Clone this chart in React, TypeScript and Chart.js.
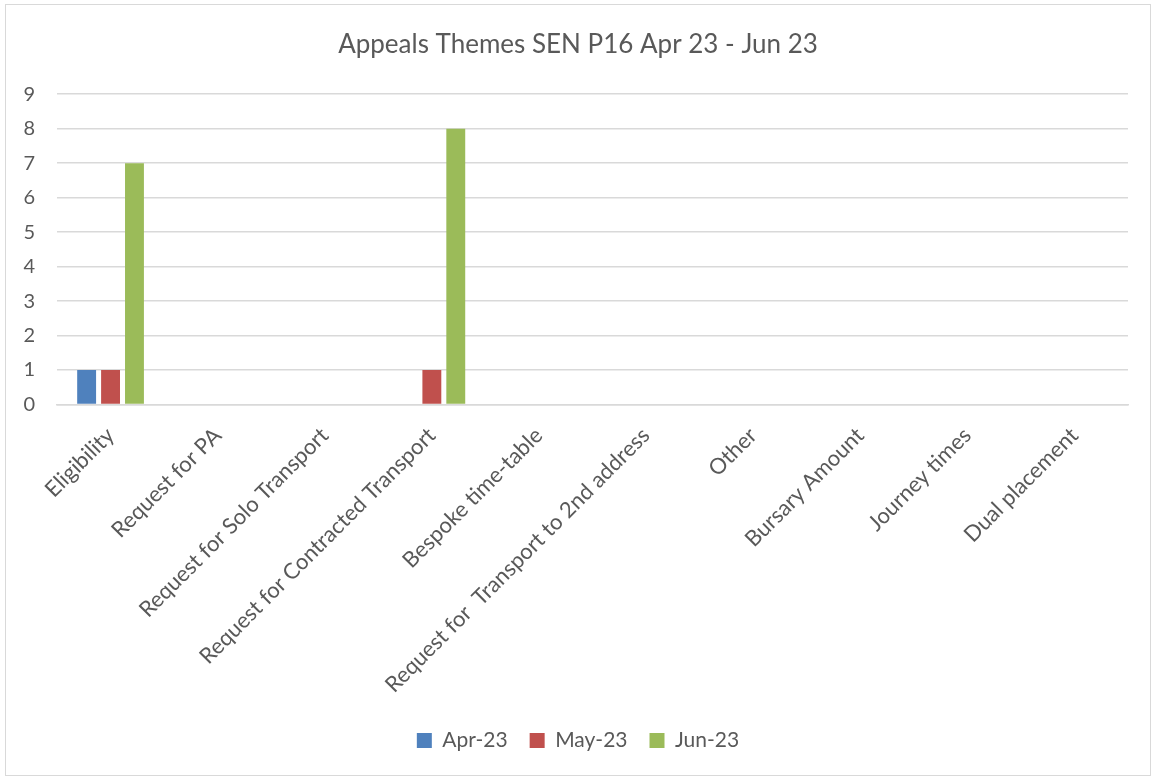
import React, { useEffect, useRef } from "react";
import { Chart, registerables } from "chart.js";

Chart.register(...registerables);

const title = "Appeals Themes SEN P16 Apr 23 - Jun 23";
const categories = [
  "Eligibility",
  "Request for PA",
  "Request for Solo Transport",
  "Request for Contracted Transport",
  "Bespoke time-table",
  "Request for  Transport to 2nd address",
  "Other",
  "Bursary Amount",
  "Journey times",
  "Dual placement",
];
const apr23 = [1, 0, 0, 0, 0, 0, 0, 0, 0, 0];
const may23 = [1, 0, 0, 1, 0, 0, 0, 0, 0, 0];
const jun23 = [7, 0, 0, 8, 0, 0, 0, 0, 0, 0];
const seriesNames = ["Apr-23", "May-23", "Jun-23"];
const seriesColors = ["#4f81bd", "#c0504d", "#9bbb59"];

export default function App() {
  const ref = useRef<HTMLCanvasElement>(null);
  useEffect(() => {
    document.body.style.margin = "0";
    const FONT = "Lato, 'Open Sans', sans-serif";
    const chart = new Chart(ref.current!, {
      type: "bar",
      data: {
        labels: categories,
        datasets: [apr23, may23, jun23].map((d, i) => ({
          label: seriesNames[i],
          data: d,
          backgroundColor: seriesColors[i],
          barPercentage: 0.79,
          categoryPercentage: 0.67,
        })),
      },
      options: {
        animation: false,
        responsive: false,
        maintainAspectRatio: false,
        layout: { padding: { left: 22, right: 22, top: 24, bottom: 14 } },
        plugins: {
          title: {
            display: true,
            text: title,
            color: "#595959",
            font: { family: FONT, size: 26, weight: "normal" },
            padding: { top: 0, bottom: 34 },
          },
          legend: {
            position: "bottom",
            labels: {
              color: "#595959",
              font: { family: FONT, size: 21 },
              boxWidth: 15,
              boxHeight: 15,
              padding: 22,
            },
          },
          tooltip: { enabled: false },
        },
        scales: {
          x: {
            grid: { display: false },
            border: { color: "#d9d9d9", width: 1.5 },
            afterFit: (s: any) => {
              s.paddingLeft = 0;
            },
            ticks: {
              color: "#595959",
              font: { family: FONT, size: 22 },
              minRotation: 45,
              maxRotation: 45,
              autoSkip: false,
              padding: 10,
            },
          },
          y: {
            min: 0,
            max: 9,
            grid: { color: "#d9d9d9", lineWidth: 1.5, drawTicks: false },
            border: { display: false },
            afterFit: (s: any) => {
              s.width = 29;
              s._computeLabelArea = () => undefined;
            },
            ticks: {
              stepSize: 1,
              color: "#595959",
              font: { family: FONT, size: 20 },
              padding: 22,
            },
          },
        },
      },
    });
    return () => chart.destroy();
  }, []);
  return (
    <div
      style={{
        position: "absolute",
        left: 5,
        top: 4,
        width: 1146,
        height: 772,
        border: "1px solid #d9d9d9",
        boxSizing: "border-box",
        background: "#fff",
      }}
    >
      <canvas ref={ref} width={1144} height={770} style={{ display: "block" }} />
    </div>
  );
}
